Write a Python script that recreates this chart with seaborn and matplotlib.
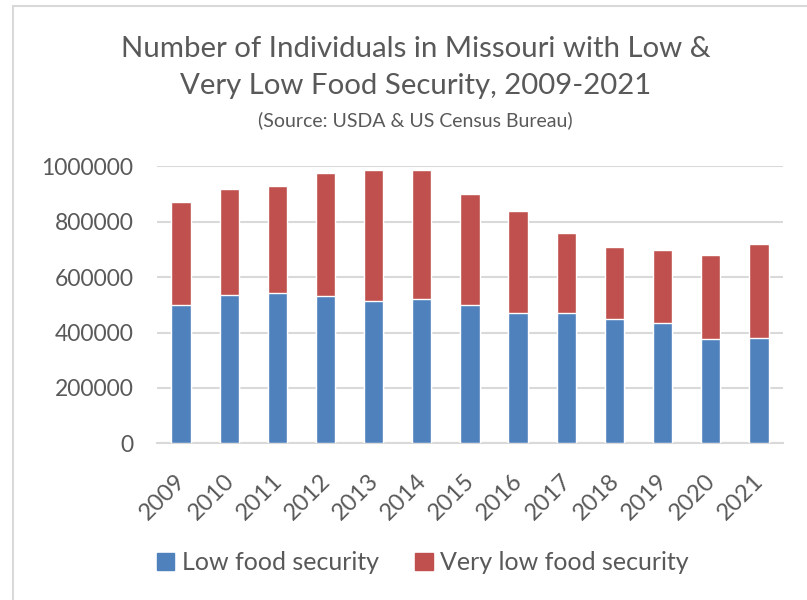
import pandas as pd
import matplotlib.pyplot as plt
import matplotlib.patches as mpatches
import matplotlib.transforms as mtransforms
import seaborn as sns

# Datos
anios = ["2009", "2010", "2011", "2012", "2013", "2014", "2015",
         "2016", "2017", "2018", "2019", "2020", "2021"]
baja = [499000, 534000, 541000, 530000, 513000, 522000, 500000,
        469000, 472000, 448000, 434000, 377000, 381000]
muy_baja = [372000, 384000, 389000, 445000, 475000, 465000, 398000,
            368000, 286000, 262000, 263000, 304000, 337000]

AZUL = "#4F81BD"
ROJO = "#C0504D"
GRIS = "#595959"
FUENTE = "Lato"

df = pd.DataFrame({"anio": anios, "baja": baja, "muy_baja": muy_baja})
df["total"] = df["baja"] + df["muy_baja"]

sns.set_theme(style="white")
plt.rcParams["font.family"] = [FUENTE, "DejaVu Sans"]

fig = plt.figure(figsize=(8.07, 6.0), dpi=100)
ax = fig.add_axes([0.1945, 0.261, 0.7757, 0.462])

# barras apiladas: total en rojo, baja en azul encima
sns.barplot(data=df, x="anio", y="total", color=ROJO, saturation=1,
            width=0.4, ax=ax, zorder=3)
sns.barplot(data=df, x="anio", y="baja", color=AZUL, saturation=1,
            width=0.4, ax=ax, zorder=4)

ax.set_ylim(0, 1000000)
ax.set_xlim(-0.5, len(anios) - 0.5)
ax.set_yticks(range(0, 1000001, 200000))
ax.set_yticklabels([str(v) for v in range(0, 1000001, 200000)])
ax.yaxis.grid(True, color="#D9D9D9", linewidth=1.5, zorder=0)
ax.set_axisbelow(True)
for lado in ["top", "right", "left"]:
    ax.spines[lado].set_visible(False)
ax.spines["bottom"].set_color("#D9D9D9")
ax.spines["bottom"].set_linewidth(1.5)
ax.tick_params(axis="both", length=0, colors=GRIS)
ax.tick_params(axis="y", pad=17, labelsize=16.5)
ax.tick_params(axis="x", labelsize=17)
desplazamiento = mtransforms.ScaledTranslation(-6 / 100, -22 / 100, fig.dpi_scale_trans)
for etiqueta in ax.get_xticklabels():
    etiqueta.set_rotation(45)
    etiqueta.set_ha("right")
    etiqueta.set_rotation_mode("anchor")
    etiqueta.set_transform(etiqueta.get_transform() + desplazamiento)
ax.set_xlabel("")
ax.set_ylabel("")

# títulos
fig.text(0.515, 0.919, "Number of Individuals in Missouri with Low &",
         ha="center", va="center", fontsize=21.2, color=GRIS)
fig.text(0.515, 0.856, "Very Low Food Security, 2009-2021",
         ha="center", va="center", fontsize=21.2, color=GRIS)
fig.text(0.515, 0.8, "(Source: USDA & US Census Bureau)",
         ha="center", va="center", fontsize=14, color=GRIS)

# leyenda
handles = [mpatches.Patch(color=AZUL, label="Low food security"),
           mpatches.Patch(color=ROJO, label="Very low food security")]
fig.legend(handles=handles, loc="center", bbox_to_anchor=(0.524, 0.062),
           ncol=2, frameon=False, fontsize=18, labelcolor=GRIS,
           handlelength=0.7, handleheight=0.7, handletextpad=0.3,
           columnspacing=1.45)

# borde del gráfico
fig.patches.append(mpatches.Rectangle((0.016, -0.01), 1.2, 1.0, transform=fig.transFigure,
                                      fill=False, edgecolor="#D9D9D9", linewidth=1.5))

fig.savefig("out.png", dpi=100)
